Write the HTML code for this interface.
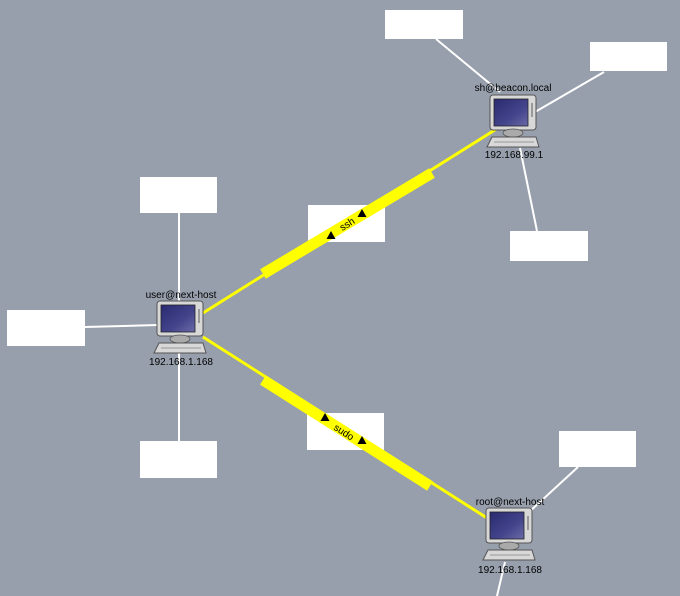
<!DOCTYPE html>
<html><head><meta charset="utf-8"><style>
html,body{margin:0;padding:0;background:#979fac;}
svg{display:block;font-family:"Liberation Sans",sans-serif;}
</style></head><body>
<svg width="680" height="596" viewBox="0 0 680 596" xmlns="http://www.w3.org/2000/svg">
<defs>
<linearGradient id="scr" x1="0" y1="0" x2="1" y2="1">
<stop offset="0" stop-color="#2a2a70"/><stop offset="0.6" stop-color="#44448c"/><stop offset="1" stop-color="#6a6aa8"/>
</linearGradient>
<g id="pc">
<rect x="0" y="0" width="46" height="35" rx="3" fill="#d8d8d8" stroke="#555" stroke-width="1"/>
<rect x="4" y="4" width="34" height="27" fill="url(#scr)" stroke="#222" stroke-width="0.8"/>
<rect x="41" y="8" width="2" height="14" fill="#999"/>
<ellipse cx="23" cy="38" rx="10" ry="4" fill="#aaa" stroke="#555" stroke-width="0.8"/>
<polygon points="2,42 46,42 49,52 -3,52" fill="#d8d8d8" stroke="#555" stroke-width="1"/>
<line x1="4" y1="47" x2="44" y2="47" stroke="#999" stroke-width="1"/>
</g>
</defs>
<g stroke="#fff" stroke-width="2" fill="none">
<line x1="179" y1="213" x2="179" y2="302"/>
<line x1="85" y1="327" x2="158" y2="325"/>
<line x1="179" y1="352" x2="179" y2="441"/>
<line x1="436" y1="39" x2="500" y2="92"/>
<line x1="604" y1="72" x2="535" y2="112"/>
<line x1="520" y1="148" x2="537" y2="231"/>
<line x1="578" y1="467" x2="528" y2="513"/>
<line x1="505" y1="562" x2="497" y2="596"/>
</g>
<g fill="#fff">
<rect x="385" y="10" width="78" height="29"/>
<rect x="590" y="42" width="77" height="29"/>
<rect x="510" y="231" width="78" height="30"/>
<rect x="140" y="177" width="77" height="36"/>
<rect x="7" y="310" width="78" height="36"/>
<rect x="140" y="441" width="77" height="37"/>
<rect x="559" y="431" width="77" height="36"/>
<rect x="308" y="205" width="77" height="37"/>
<rect x="307" y="413" width="77" height="37"/>
</g>
<g stroke="#ffff00" fill="none">
<line x1="203" y1="313" x2="498" y2="128" stroke-width="3"/>
<line x1="263" y1="274" x2="432" y2="173" stroke-width="11"/>
<line x1="203" y1="337" x2="487" y2="518" stroke-width="3"/>
<line x1="263" y1="380" x2="430" y2="486" stroke-width="11"/>
</g>
<g transform="translate(347,224) rotate(-32)" font-size="10" fill="#000">
<text x="0" y="3.5" text-anchor="middle">ssh</text>
</g>
<g transform="translate(344,432) rotate(32.6)" font-size="10" fill="#000">
<text x="0" y="3.5" text-anchor="middle">sudo</text>
</g>
<g fill="#000">
<polygon points="331,231 326.5,239 335.5,239"/>
<polygon points="362,209 357.5,217 366.5,217"/>
<polygon points="325,413 320.5,421 329.5,421"/>
<polygon points="362,436 357.5,444 366.5,444"/>
</g>
<use href="#pc" x="157" y="301"/>
<use href="#pc" x="490" y="95"/>
<use href="#pc" x="486" y="508"/>
<g font-size="10" fill="#000" text-anchor="middle">
<text x="181" y="298">user@next-host</text>
<text x="181" y="365">192.168.1.168</text>
<text x="513" y="91">sh@beacon.local</text>
<text x="514" y="158">192.168.99.1</text>
<text x="510" y="505">root@next-host</text>
<text x="510" y="573">192.168.1.168</text>
</g>
</svg>
</body></html>
